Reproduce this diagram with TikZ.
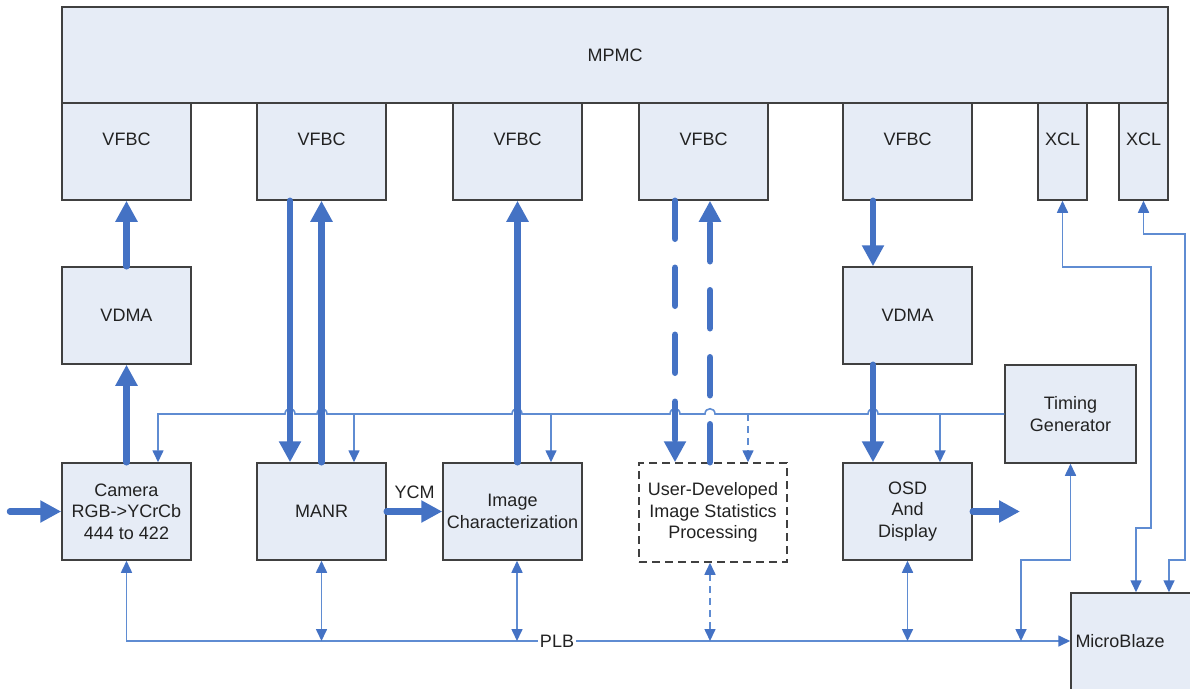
\documentclass[tikz,border=0pt]{standalone}
\usepackage{fontspec}
\setmainfont{Liberation Sans}
\usetikzlibrary{arrows.meta}
\definecolor{boxfill}{RGB}{230,236,246}
\definecolor{boxline}{RGB}{64,64,64}
\definecolor{textgray}{RGB}{34,34,34}
\definecolor{arrowblue}{RGB}{68,114,196}
\definecolor{linkblue}{RGB}{95,140,210}

\tikzset{
  every node/.style={font=\fontsize{18}{21.5}\selectfont, text=textgray},
  blk/.style={draw=boxline, line width=1.5pt, fill=boxfill, align=center, inner sep=0pt},
  portbox/.style={blk, minimum width=129pt, minimum height=97pt},
  userbox/.style={blk, fill=white, dash pattern=on 8pt off 5pt},
  bus/.style={draw=arrowblue, line width=6.5pt, line cap=round, -{Triangle[width=21pt,length=21pt]}},
  dashbus/.style={bus, dash pattern=on 38pt off 29pt},
  sig/.style={draw=linkblue, line width=1.6pt},
  dashsig/.style={sig, dash pattern=on 7pt off 5pt},
}

\begin{document}
\begin{tikzpicture}[x=1pt, y=-1pt, >={Triangle[width=11pt,length=12pt,color=arrowblue]}]
\useasboundingbox (0,0) rectangle (1190,688);

% memory controller and its ports
\node[blk, minimum width=1106pt, minimum height=96pt] (mpmc) at (615,55) {MPMC};
\node[portbox, label={[anchor=center, yshift=-37pt]north:VFBC}] (vfbc1) at (126.5,151.5) {};
\node[portbox, label={[anchor=center, yshift=-37pt]north:VFBC}] (vfbc2) at (321.5,151.5) {};
\node[portbox, label={[anchor=center, yshift=-37pt]north:VFBC}] (vfbc3) at (517.5,151.5) {};
\node[portbox, label={[anchor=center, yshift=-37pt]north:VFBC}] (vfbc4) at (703.5,151.5) {};
\node[portbox, label={[anchor=center, yshift=-37pt]north:VFBC}] (vfbc5) at (907.5,151.5) {};
\node[portbox, minimum width=49pt, label={[anchor=center, yshift=-37pt]north:XCL}] (xcl1) at (1062.5,151.5) {};
\node[portbox, minimum width=49pt, label={[anchor=center, yshift=-37pt]north:XCL}] (xcl2) at (1143.5,151.5) {};

% processing blocks
\node[portbox] (vdma1) at (126.5,315.5) {VDMA};
\node[portbox] (vdma2) at (907.5,315.5) {VDMA};
\node[portbox] (cam) at (126.5,511.5) {Camera\\RGB->YCrCb\\444 to 422};
\node[portbox] (manr) at (321.5,511.5) {MANR};
\node[portbox, minimum width=139pt] (imgc) at (512.5,511.5) {Image\\Characterization};
\node[userbox, minimum width=148pt, minimum height=99pt] (user) at (713,512.5) {User-Developed\\Image Statistics\\Processing};
\node[portbox] (osd) at (907.5,511.5) {OSD\\And\\Display};
\node[portbox, minimum width=131pt, minimum height=98pt] (tgen) at (1070.5,414) {Timing\\Generator};
\node[portbox, minimum width=130pt, label={[anchor=center, xshift=-16pt]center:MicroBlaze}] (mblaze) at (1136,641.5) {};

% bus taps
\coordinate (tcam) at (158,414);
\coordinate (tmanr) at (354,414);
\coordinate (timgc) at (551,414);
\coordinate (tuser) at (748,414);
\coordinate (tosd) at (940,414);
\coordinate (pcam) at (126.5,641);
\coordinate (pimgc) at (517,641);
\coordinate (puser) at (710,641);
\coordinate (tgbend) at (1021,560);
\coordinate (xa) at (1151,267);
\coordinate (xb) at (1136,528);
\coordinate (xc) at (1185,234);
\coordinate (xd) at (1169,560);
\coordinate (camin) at (10,511.5);
\coordinate (osdout) at (1020,511.5);

% timing bus
\draw[sig,->] (tgen.west) -- (878,414) .. controls (878,407) and (868,407) .. (868,414)
  -- (715,414) .. controls (715,407) and (705,407) .. (705,414)
  -- (680,414) .. controls (680,407) and (670,407) .. (670,414)
  -- (522,414) .. controls (522,407) and (512,407) .. (512,414)
  -- (327,414) .. controls (327,407) and (317,407) .. (317,414)
  -- (295,414) .. controls (295,407) and (285,407) .. (285,414)
  -- (tcam) -- (tcam |- cam.north);
\draw[sig,->] (tmanr) -- (tmanr |- manr.north);
\draw[sig,->] (timgc) -- (timgc |- imgc.north);
\draw[dashsig,->] (tuser) -- (tuser |- user.north);
\draw[sig,->] (tosd) -- (tosd |- osd.north);

% PLB
\draw[sig,<->] (pcam |- cam.south) -- (pcam) -- (pcam -| mblaze.west);
\node[fill=white, inner sep=2pt] (plb) at (557,641) {PLB};
\draw[sig,<->] (manr.south) -- (manr.south |- pcam);
\draw[sig,<->] (pimgc |- imgc.south) -- (pimgc);
\draw[dashsig,<->] (puser |- user.south) -- (puser);
\draw[sig,<->] (osd.south) -- (osd.south |- pcam);
\draw[sig,<->] (tgen.south) |- (tgbend) -- (tgbend |- pcam);

% XCL links
\draw[sig,<->] (xcl1.south) |- (xa) |- (xb) -- (xb |- mblaze.north);
\draw[sig,<->] (xcl2.south) |- (xc) |- (xd) -- (xd |- mblaze.north);

% video data paths
\draw[bus] (vdma1.north) -- (vfbc1.south);
\draw[bus] (cam.north) -- (vdma1.south);
\draw[bus] ([xshift=-31.5pt]vfbc2.south) -- ([xshift=-31.5pt]manr.north);
\draw[bus] (manr.north) -- (vfbc2.south);
\draw[bus] (vfbc3.south |- imgc.north) -- (vfbc3.south);
\draw[dashbus] ([xshift=-28.5pt]vfbc4.south) -- ([xshift=-38pt]user.north);
\draw[dashbus] ([xshift=-3pt]user.north) -- ([xshift=6.5pt]vfbc4.south);
\draw[bus] ([xshift=-34.5pt]vfbc5.south) -- ([xshift=-34.5pt]vdma2.north);
\draw[bus] ([xshift=-34.5pt]vdma2.south) -- ([xshift=-34.5pt]osd.north);
\draw[bus] (camin) -- (cam.west);
\draw[bus] (manr.east) -- (imgc.west) node[midway, above=6.5pt] (ycm) {YCM};
\draw[bus] (osd.east) -- (osdout);

\end{tikzpicture}
\end{document}
